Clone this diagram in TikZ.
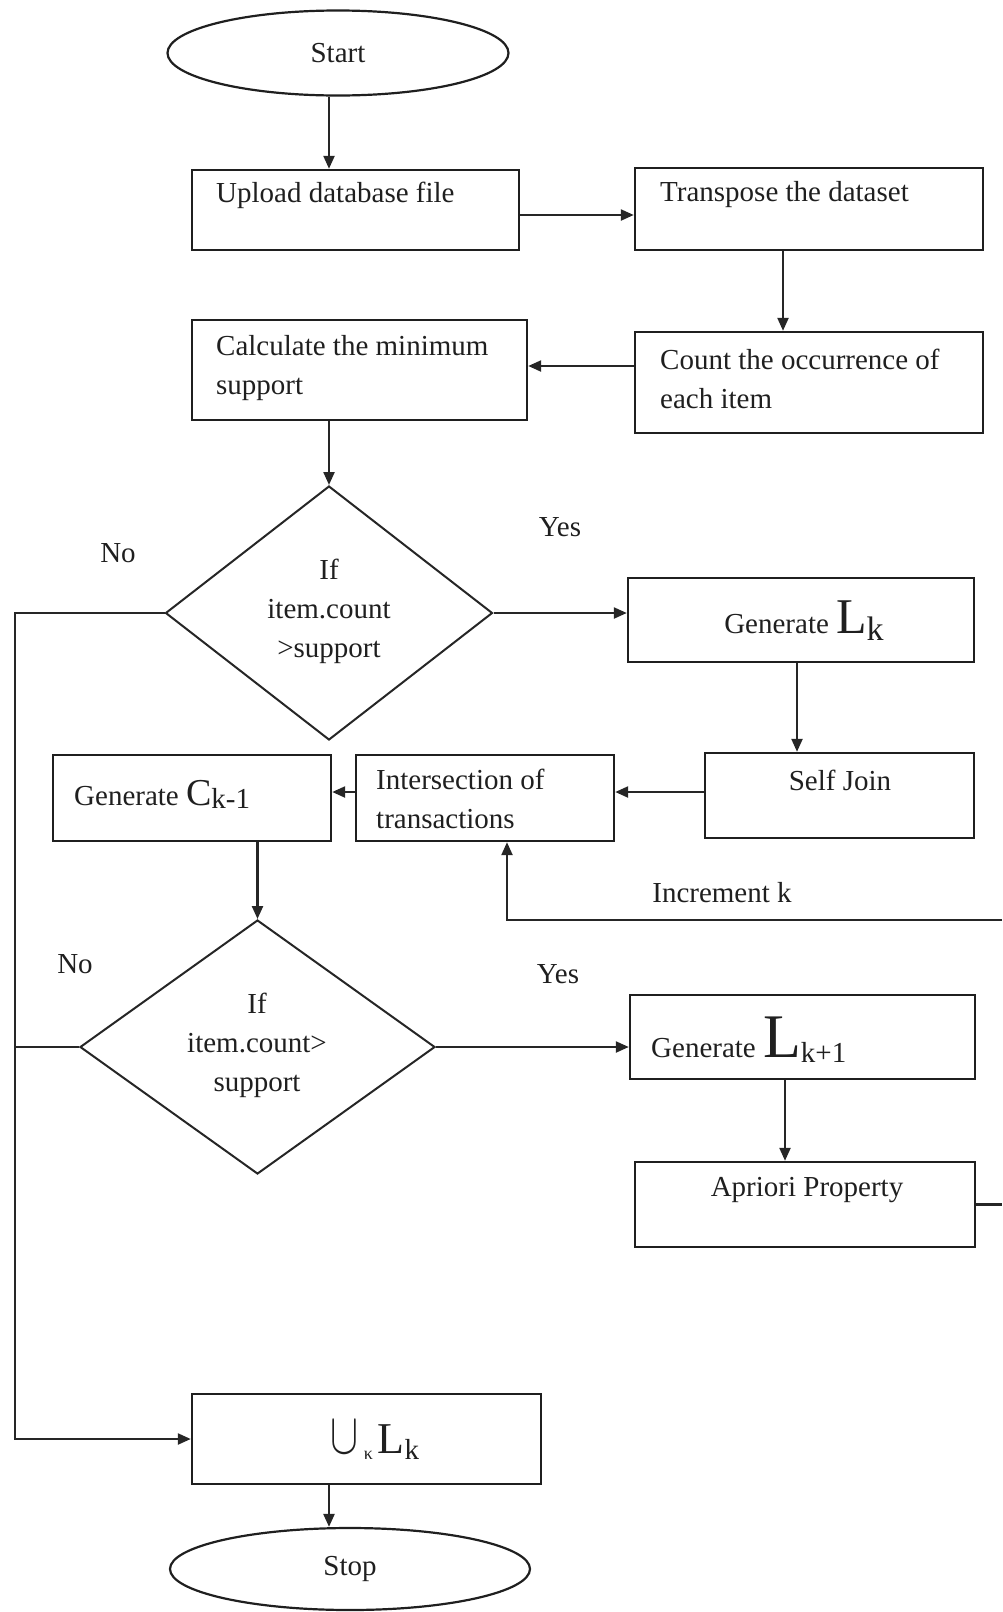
\documentclass[tikz,border=0pt]{standalone}
\usepackage{fontspec}
\setmainfont{Liberation Serif}
\usetikzlibrary{shapes.geometric,arrows.meta,calc}

\begin{document}
\begin{tikzpicture}[x=1pt,y=-1pt,
  every node/.style={font=\fontsize{29}{39}\selectfont, text=black!88},
  box/.style={draw=black!88, line width=2.4pt, rectangle, inner sep=0pt},
  oval/.style={draw=black!88, line width=2.2pt, ellipse, inner sep=0pt},
  dia/.style={draw=black!85, line width=2pt, diamond, inner sep=0pt},
  lbl/.style={inner sep=0pt, align=left},
  conn/.style={draw=black!85, line width=2.3pt},
  arr/.style={conn, -{Triangle[length=13pt,width=11pt]}},
]
\useasboundingbox (0,0) rectangle (1002,1612);

% terminals and process boxes
\node[oval, minimum width=341pt, minimum height=85pt] (start) at (338,53) {Start};

\node[box, minimum width=327pt, minimum height=80pt] (upload) at (355.5,210) {};
\node[lbl, anchor=west] (tupload) at (216,195) {Upload database file};

\node[box, minimum width=348pt, minimum height=82pt] (transpose) at (809,209) {};
\node[lbl, anchor=west] (ttranspose) at (660,195) {Transpose the dataset};

\node[box, minimum width=348pt, minimum height=101pt] (count) at (809,382.5) {};
\node[lbl, anchor=west] (tcount) at (660,378.5) {Count the occurrence of\\each item};

\node[box, minimum width=335pt, minimum height=100pt] (calc) at (359.5,370) {};
\node[lbl, anchor=west] (tcalc) at (216,368.5) {Calculate the minimum\\support};

\node[dia, minimum width=327pt, minimum height=254pt] (d1) at (329,613) {};
\node[lbl, align=center] (td1) at (329,611) {If\\item.count\\>support};

\node[box, minimum width=346pt, minimum height=84pt] (lk) at (801,620) {};
\node[lbl] (tlk) at (804,621) {Generate {\fontsize{50}{50}\selectfont L}\raisebox{-7pt}{\fontsize{34}{34}\selectfont k}};

\node[box, minimum width=269pt, minimum height=85pt] (self) at (839.5,795.5) {};
\node[lbl] (tself) at (840,780) {Self Join};

\node[box, minimum width=258pt, minimum height=86pt] (inter) at (485,798) {};
\node[lbl, anchor=west] (tinter) at (376,799) {Intersection of\\transactions};

\node[box, minimum width=278pt, minimum height=86pt] (genc) at (192,798) {};
\node[lbl, anchor=west] (tgenc) at (74,794) {Generate {\fontsize{38}{38}\selectfont C}\raisebox{-3pt}{k-1}};

\node[dia, minimum width=355pt, minimum height=254pt] (d2) at (257.5,1047) {};
\node[lbl, align=center] (td2) at (257,1045) {If\\item.count>\\support};

\node[box, minimum width=345pt, minimum height=84pt] (lk1) at (802.5,1037) {};
\node[lbl, anchor=west] (tlk1) at (651,1040) {Generate {\fontsize{62}{62}\selectfont L}\raisebox{-5pt}{k+1}};

\node[box, minimum width=340pt, minimum height=85pt] (apr) at (805,1204.5) {};
\node[lbl] (tapr) at (807,1190) {Apriori Property};

\node[box, minimum width=349pt, minimum height=90pt] (union) at (366.5,1439) {};
\node[lbl] (tunion) at (375,1440) {\scalebox{4.2}[5.8]{\fontsize{10}{10}\selectfont$\cup$}\,\raisebox{-6pt}{\fontsize{18}{18}\selectfont κ}\,{\fontsize{44}{44}\selectfont L}\raisebox{-6pt}{k}};

\node[oval, minimum width=360pt, minimum height=82pt] (stop) at (350,1569) {Stop};

% branch labels
\node (yes1) at (560,527) {Yes};
\node (no1) at (118,553) {No};
\node (no2) at (75,964) {No};
\node (yes2) at (558,974) {Yes};
\node (inc) at (722,893) {Increment k};

% guide coordinates for the connectors
\coordinate (lx) at (15,0);
\coordinate (rx) at (1002,0);
\coordinate (a1) at (329,0);
\coordinate (a2) at (0,215);
\coordinate (a3) at (783,0);
\coordinate (a4) at (0,366);
\coordinate (a5) at (797,0);
\coordinate (a6) at (0,792);
\coordinate (a7) at (785,0);
\coordinate (a8) at (507,920);

% connectors
\draw[arr] (start.south -| a1) -- (upload.north -| a1);
\draw[arr] (upload.east |- a2) -- (transpose.west |- a2);
\draw[arr] (transpose.south -| a3) -- (count.north -| a3);
\draw[arr] (count.west |- a4) -- (calc.east |- a4);
\draw[arr] (calc.south -| d1.north) -- (d1.north);
\draw[arr] (d1.east) -- (lk.west |- d1.east);
\draw[arr] (lk.south -| a5) -- (self.north -| a5);
\draw[arr] (self.west |- a6) -- (inter.east |- a6);
\draw[arr] (inter.west |- a6) -- (genc.east |- a6);
\draw[arr] (genc.south -| d2.north) -- (d2.north);
\draw[arr] (d2.east) -- (lk1.west |- d2.east);
\draw[arr] (lk1.south -| a7) -- (apr.north -| a7);
\draw[arr] (union.south -| a1) -- (stop.north -| a1);
\draw[arr] (d1.west) -- (d1.west -| lx) -- (union.west -| lx) -- (union.west);
\draw[conn] (d2.west) -- (d2.west -| lx);
\draw[conn] (apr.east) -- (apr.east -| rx);
\draw[arr] (a8 -| rx) -- (a8) -- (inter.south -| a8);
\end{tikzpicture}
\end{document}
